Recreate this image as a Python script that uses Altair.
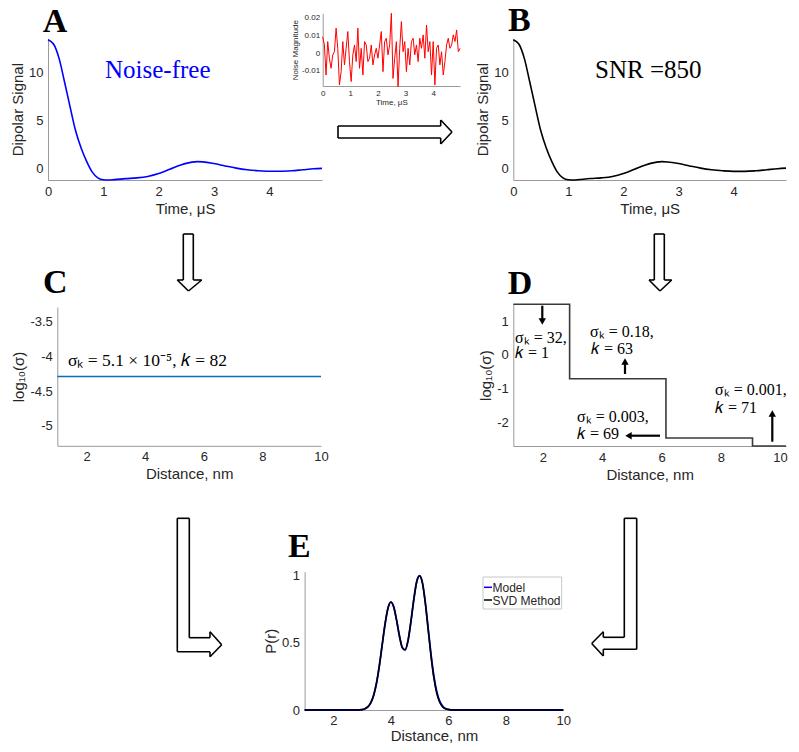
import altair as alt
import pandas as pd

OFF = 8
W, H = 799 - 2 * OFF, 752 - 2 * OFF


def X(x):
    return x - OFF


def Y(y):
    return y - OFF


# ---------------- data ----------------
# Panel A / B : dipolar signal
A_t = [0, 0.1, 0.2, 0.3, 0.4, 0.5, 0.6, 0.7, 0.8, 0.9, 1.0, 1.1, 1.2, 1.4, 1.6, 1.8,
       2.0, 2.2, 2.4, 2.6, 2.7, 2.8, 3.0, 3.2, 3.4, 3.6, 3.8, 4.0, 4.2, 4.4, 4.6, 4.8, 4.95]
A_sig = [13.45, 13.0, 11.5, 9.0, 6.4, 3.9, 2.1, 0.7, -0.4, -1.0, -1.2, -1.22, -1.18, -1.08,
         -1.0, -0.85, -0.55, -0.1, 0.35, 0.65, 0.7, 0.68, 0.5, 0.25, 0.02, -0.15, -0.25,
         -0.3, -0.3, -0.25, -0.15, -0.05, 0.0]
B_sig = [13.45, 13.0, 11.5, 9.0, 6.4, 3.9, 2.1, 0.7, -0.4, -1.0, -1.2, -1.22, -1.17, -1.07,
         -1.0, -0.86, -0.55, -0.1, 0.35, 0.65, 0.7, 0.67, 0.5, 0.25, 0.02, -0.15, -0.26,
         -0.32, -0.32, -0.26, -0.15, -0.04, 0.02]

# Inset: noise
N_t = [0, .061, .121, .182, .242, .303, .364, .424, .485, .545, .606, .667, .727, .788,
       .848, .909, .970, 1.030, 1.091, 1.152, 1.212, 1.273, 1.333, 1.394, 1.455, 1.515,
       1.576, 1.636, 1.697, 1.758, 1.818, 1.879, 1.939, 2.000, 2.061, 2.121, 2.182, 2.242,
       2.303, 2.364, 2.424, 2.485, 2.545, 2.606, 2.667, 2.727, 2.788, 2.848, 2.909, 2.970,
       3.030, 3.091, 3.152, 3.212, 3.273, 3.333, 3.394, 3.455, 3.515, 3.576, 3.636, 3.697,
       3.758, 3.818, 3.879, 3.939, 4.000, 4.061, 4.121, 4.182, 4.242, 4.303, 4.364, 4.424,
       4.485, 4.545, 4.606, 4.667, 4.727, 4.788, 4.848, 4.909, 4.970]
N_milli = [9.4, 4.7, -12.3, 6.6, -2.8, -8.5, -0.9, 0.9, 14.2, 2.8, -17.9, -10.4, 6.6, -6.6,
           2.8, 12.3, -4.7, -16.0, -0.9, 4.7, -4.7, 14.2, -8.5, 2.8, -12.3, 6.6, 4.7, -4.7,
           -2.8, 4.7, -6.6, -0.9, 2.8, -2.8, 4.7, 12.3, -10.4, 6.6, 8.5, -0.9, 4.7, 22.6,
           -14.2, -2.8, 6.6, -18.9, 2.8, 17.9, 0.9, 6.6, -10.4, 2.8, -6.6, 6.6, 8.5, -0.9,
           4.7, -4.7, 8.5, 2.8, 10.4, -2.8, 16.0, 0.9, 6.6, -12.3, 6.6, -17.9, 2.8, 4.7,
           -6.6, 0.9, -12.3, -4.7, 4.7, 8.5, 2.8, 4.7, 10.4, 6.6, 13.2, 0.9, 2.8]

# Panel C
C_r = [1, 10]
C_logsig = [-4.29, -4.29]

# Panel D
D_r = [1, 2.9, 6.15, 9.07, 10.2]
D_logsig = [1.505, -0.71, -2.47, -2.71, -2.71]

# Panel E
E_r = [1.0, 2.0, 2.8, 2.9, 3.0, 3.1, 3.2, 3.3, 3.4, 3.5, 3.6, 3.7, 3.8, 3.9, 4.0, 4.1,
       4.2, 4.3, 4.4, 4.5, 4.6, 4.7, 4.8, 4.9, 5.0, 5.1, 5.2, 5.3, 5.4, 5.5, 5.6, 5.7,
       5.8, 5.9, 6.0, 6.1, 6.2, 7.0, 8.0, 9.0, 10.0]
E_model = [0, 0, 0, 0.001, 0.003, 0.009, 0.023, 0.053, 0.108, 0.199, 0.329, 0.486, 0.641,
           0.758, 0.804, 0.768, 0.669, 0.551, 0.464, 0.448, 0.519, 0.660, 0.824, 0.955,
           1.0, 0.947, 0.801, 0.607, 0.411, 0.249, 0.135, 0.066, 0.029, 0.011, 0.004,
           0.001, 0, 0, 0, 0, 0]
E_svd = [0, 0, 0, 0.001, 0.003, 0.009, 0.023, 0.053, 0.108, 0.199, 0.329, 0.486, 0.641,
         0.758, 0.804, 0.768, 0.669, 0.551, 0.464, 0.447, 0.518, 0.660, 0.824, 0.955,
         1.0, 0.945, 0.795, 0.595, 0.398, 0.235, 0.123, 0.058, 0.024, 0.009, 0.003,
         0.001, 0, 0, 0, 0, 0]

# ---------------- helpers ----------------
AX_COL = "#262626"


def axis(orient, offset, values, title, lsize=13, tsize=15, tpad=3, lpad=5):
    return alt.Axis(orient=orient, offset=offset, values=values, title=title, grid=False,
                    ticks=False, labelExpr="'' + datum.value", labelFontSize=lsize,
                    titleFontSize=tsize, labelFont="Liberation Sans",
                    titleFont="Liberation Sans", labelColor=AX_COL, titleColor=AX_COL,
                    titleFontWeight="normal", domainColor="#9a9a9a", domainWidth=1,
                    labelPadding=lpad, titlePadding=tpad, labelFlush=False,
                    labelOverlap=False)


def sc(domain, rng):
    return alt.Scale(domain=domain, range=rng, nice=False, zero=False)


ONE = alt.Data(values=[{}])


def txt(s, x, y, size, font="Liberation Serif", color="black", weight="normal",
        style="normal", align="left", baseline="alphabetic"):
    return alt.Chart(ONE).mark_text(text=s, font=font, fontSize=size, color=color,
                                    fontWeight=weight, fontStyle=style, align=align,
                                    baseline=baseline).encode(
        x=alt.value(X(x)), y=alt.value(Y(y)))


def seg(x1, y1, x2, y2, w=1.6, color="black"):
    return alt.Chart(ONE).mark_rule(color=color, strokeWidth=w).encode(
        x=alt.value(X(x1)), y=alt.value(Y(y1)), x2=alt.value(X(x2)), y2=alt.value(Y(y2)))


def outline(pts, w=1.6):
    return [seg(*pts[i], *pts[(i + 1) % len(pts)], w=w) for i in range(len(pts))]


def head(x, y, shape, size=55):
    return alt.Chart(ONE).mark_point(shape=shape, filled=True, size=size, color="black",
                                     opacity=1).encode(x=alt.value(X(x)), y=alt.value(Y(y)))


layers = []

# ---------------- Panel A ----------------
dfA = pd.DataFrame({"t": A_t, "v": A_sig})
layers.append(alt.Chart(dfA).mark_line(color="#0000ff", strokeWidth=1.6,
                                       interpolate="monotone").encode(
    x=alt.X("t:Q", scale=sc([0, 4.95], [X(48), X(322)]),
            axis=axis("bottom", -(H - Y(180)), [0, 1, 2, 3, 4], "Time, μS")),
    y=alt.Y("v:Q", scale=sc([-1.22, 13.6], [Y(180), Y(38.3)]),
            axis=axis("left", -X(48), [0, 5, 10], "Dipolar Signal"))))

# ---------------- Inset ----------------
dfN = pd.DataFrame({"t": N_t, "v": [m / 1000 for m in N_milli]})
layers.append(alt.Chart(dfN).mark_line(color="#ff0000", strokeWidth=1).encode(
    x=alt.X("t:Q", scale=sc([0, 4.97], [X(322.7), X(460)]),
            axis=axis("bottom", -(H - Y(86)), [0, 1, 2, 3, 4], "Time, μS", lsize=8,
                      tsize=8, tpad=1, lpad=3)),
    y=alt.Y("v:Q", scale=sc([-0.0185, 0.0226], [Y(86), Y(13.3)]),
            axis=axis("left", -X(322.7), [-0.01, 0, 0.01, 0.02], "Noise Magnitude",
                      lsize=8, tsize=8, tpad=2, lpad=3))))

# ---------------- Panel B ----------------
dfB = pd.DataFrame({"t": A_t, "v": B_sig})
layers.append(alt.Chart(dfB).mark_line(color="#000000", strokeWidth=1.6,
                                       interpolate="monotone").encode(
    x=alt.X("t:Q", scale=sc([0, 4.95], [X(513.3), X(786)]),
            axis=axis("bottom", -(H - Y(180)), [0, 1, 2, 3, 4], "Time, μS")),
    y=alt.Y("v:Q", scale=sc([-1.22, 13.6], [Y(180), Y(38.3)]),
            axis=axis("left", -X(513.3), [0, 5, 10], "Dipolar Signal"))))

# ---------------- Panel C ----------------
dfC = pd.DataFrame({"r": C_r, "v": C_logsig})
layers.append(alt.Chart(dfC).mark_line(color="#0072BD", strokeWidth=1.6).encode(
    x=alt.X("r:Q", scale=sc([1, 10], [X(57.3), X(321)]),
            axis=axis("bottom", -(H - Y(445.8)), [2, 4, 6, 8, 10], "Distance, nm")),
    y=alt.Y("v:Q", scale=sc([-5.29, -3.29], [Y(445.8), Y(307.1)]),
            axis=axis("left", -X(57.3), [-5, -4.5, -4, -3.5], "log₁₀(σ)"))))

# ---------------- Panel D ----------------
dfD = pd.DataFrame({"r": D_r, "v": D_logsig})
layers.append(alt.Chart(dfD).mark_line(color="#3a3a3a", strokeWidth=1.6,
                                       interpolate="step-after").encode(
    x=alt.X("r:Q", scale=sc([1, 10.2], [X(513.3), X(786)]),
            axis=axis("bottom", -(H - Y(446)), [2, 4, 6, 8, 10], "Distance, nm")),
    y=alt.Y("v:Q", scale=sc([-2.71, 1.505], [Y(446), Y(304.3)]),
            axis=axis("left", -X(513.3), [-2, -1, 0, 1], "log₁₀(σ)"))))

# ---------------- Panel E ----------------
dfE = pd.DataFrame({"r": E_r, "model": E_model, "svd": E_svd})
ex = sc([1, 10], [X(304.6), X(563.3)])
ey = sc([0, 1.03], [Y(710), Y(571.7)])
layers.append(alt.Chart(dfE).mark_line(color="#0000ff", strokeWidth=1.8,
                                       interpolate="monotone").encode(
    x=alt.X("r:Q", scale=ex,
            axis=axis("bottom", -(H - Y(710)), [2, 4, 6, 8, 10], "Distance, nm",
                      tpad=1, lpad=4)),
    y=alt.Y("model:Q", scale=ey,
            axis=axis("left", -X(304.6), [0, 0.5, 1], "P(r)"))))
layers.append(alt.Chart(dfE).mark_line(color="#000000", strokeWidth=1.6,
                                       interpolate="monotone").encode(
    x=alt.X("r:Q", scale=ex, axis=None),
    y=alt.Y("svd:Q", scale=ey, axis=None)))

# legend of E
layers.append(alt.Chart(ONE).mark_rect(fill="white", stroke="#c8c8c8", strokeWidth=1).encode(
    x=alt.value(X(483)), x2=alt.value(X(561.7)), y=alt.value(Y(577)), y2=alt.value(Y(609))))
layers.append(seg(484, 587.3, 492, 587.3, w=1.5, color="#0000ff"))
layers.append(seg(484, 600, 492, 600, w=1.5, color="#000000"))
layers.append(txt("Model", 492.5, 587.5, 12, font="Liberation Sans", color=AX_COL,
                  baseline="middle"))
layers.append(txt("SVD Method", 492.5, 600.5, 12, font="Liberation Sans", color=AX_COL,
                  baseline="middle"))

# ---------------- panel letters and titles ----------------
for s, x, y in [("A", 42.7, 32), ("B", 508, 31), ("C", 43, 293), ("D", 507.7, 294),
                ("E", 288, 556.7)]:
    layers.append(txt(s, x, y, 34, weight="bold"))
layers.append(txt("Noise-free", 105, 78, 25, color="#0000ff"))
layers.append(txt("SNR =850", 595, 78, 25))

# annotations C
layers.append(txt("σₖ = 5.1 × 10⁻⁵, 𝑘 = 82", 68, 366, 17.5))

# annotations D
ann = [("σₖ = 32,", 515, 343), ("𝑘 = 1", 515, 358),
       ("σₖ = 0.18,", 590, 337), ("𝑘 = 63", 591, 354),
       ("σₖ = 0.003,", 577, 422), ("𝑘 = 69", 577, 439),
       ("σₖ = 0.001,", 715, 395), ("𝑘 = 71", 715, 412.5)]
for s, x, y in ann:
    layers.append(txt(s, x, y, 16))

layers.append(seg(542.3, 305.7, 542.3, 320, w=2.2))
layers.append(head(542.3, 321.5, "triangle-down"))
layers.append(seg(625, 374, 625, 362, w=2.2))
layers.append(head(625, 361.5, "triangle-up"))
layers.append(seg(660, 435.7, 630, 435.7, w=2.2))
layers.append(head(628.5, 435.7, "triangle-left"))
layers.append(seg(772.3, 441.7, 772.3, 415, w=2.2))
layers.append(head(772.3, 413.5, "triangle-up"))

# ---------------- outline arrows ----------------
layers += outline([(338, 126), (440.7, 126), (440.7, 120), (452, 132), (440.7, 144),
                   (440.7, 138), (338, 138)])
layers += outline([(183.3, 234), (193.3, 234), (193.3, 280), (201.7, 280), (188.5, 291),
                   (177.3, 280), (183.3, 280)])
layers += outline([(654.3, 234), (664.3, 234), (664.3, 280), (671.7, 280), (660, 291),
                   (649, 280), (654.3, 280)])
layers += outline([(177.3, 518.3), (189.3, 518.3), (189.3, 637.7), (210, 637.7),
                   (210, 631.7), (221.7, 644.7), (210, 656.7), (210, 651.7),
                   (177.3, 651.7)])
layers += outline([(624.3, 518.3), (636.7, 518.3), (636.7, 649.3), (603.3, 649.3),
                   (603.3, 656), (591.7, 643.5), (603.3, 631.7), (603.3, 637.3),
                   (624.3, 637.3)])

chart = alt.layer(*layers).resolve_scale(x="independent", y="independent").properties(
    width=W, height=H, autosize=alt.AutoSizeParams(type="none"), padding=0,
    background="white").configure_view(stroke=None)

chart.save("out.html", embed_options={"renderer": "svg", "actions": False})
